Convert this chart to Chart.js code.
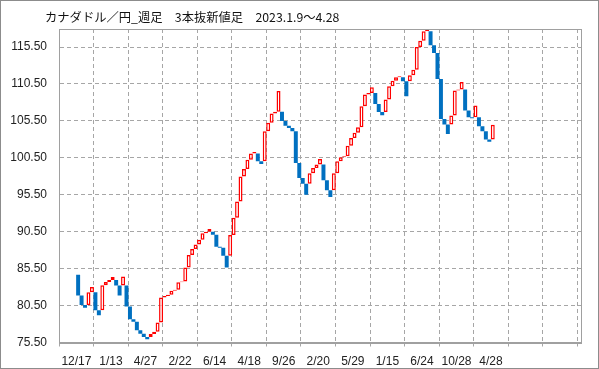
<!DOCTYPE html>
<html>
<head>
<meta charset="utf-8">
<script src="https://cdn.jsdelivr.net/npm/chart.js@4"></script>
<style>
html,body{margin:0;padding:0;background:#fff;}
#wrap{width:599px;height:369px;}
canvas{display:block;}
</style>
</head>
<body>
<div id="wrap"><canvas id="c" width="599" height="369"></canvas></div>
<script>
const chartTitle = 'カナダドル／円_週足　3本抜新値足　2023.1.9～4.28';
const xLabels = ['12/17','1/13','4/27','2/22','6/14','4/18','9/26','2/20','5/29','1/15','6/24','10/28','4/28'];
const yTicks = [75.5, 80.5, 85.5, 90.5, 95.5, 100.5, 105.5, 110.5, 115.5];
const barOpen = [
  84.68, 81.85, 80.57, 80.57, 82.30, 82.30, 79.88, 79.88, 83.25, 83.70,
  83.95, 83.95, 83.20, 83.20, 83.20, 80.37, 78.65, 78.32, 77.15, 76.70,
  76.25, 76.25, 76.65, 76.95, 78.20, 81.60, 81.80, 81.95, 82.50, 82.65,
  83.65, 83.75, 85.66, 87.33, 88.15, 88.78, 89.41, 90.30, 90.50, 90.50,
  90.10, 88.45, 88.32, 87.23, 87.23, 90.05, 92.40, 94.58, 97.98, 98.98,
  100.25, 101.07, 101.07, 100.02, 100.02, 104.10, 105.24, 106.50, 106.74, 106.74,
  105.47, 104.85, 104.55, 104.10, 99.80, 97.76, 96.99, 96.99, 98.42, 99.12,
  99.60, 99.60, 97.45, 96.10, 96.10, 98.42, 100.03, 100.57, 100.70, 102.15,
  103.19, 103.90, 104.64, 107.48, 109.06, 109.28, 109.28, 107.80, 106.72, 106.72,
  108.38, 110.18, 110.95, 111.40, 111.40, 110.86, 110.86, 111.67, 112.44, 115.50,
  116.36, 117.62, 117.62, 115.73, 114.69, 111.18, 105.77, 105.00, 105.00, 106.22,
  109.60, 109.75, 109.75, 106.90, 106.00, 106.00, 106.00, 104.78, 104.10, 102.98,
  102.98
];
const barClose = [
  81.85, 80.57, 80.20, 82.30, 83.00, 79.88, 79.20, 83.25, 83.70, 83.95,
  84.36, 83.20, 81.85, 84.45, 80.37, 78.65, 78.32, 77.15, 76.70, 76.25,
  75.95, 76.65, 76.95, 78.20, 81.60, 81.80, 81.95, 82.50, 82.65, 83.65,
  83.75, 85.66, 87.33, 88.15, 88.78, 89.41, 90.30, 90.50, 90.86, 90.10,
  88.45, 88.32, 87.23, 85.65, 90.05, 92.40, 94.58, 97.98, 98.98, 100.25,
  101.07, 101.30, 100.02, 99.66, 104.10, 105.24, 106.50, 106.74, 109.55, 105.47,
  104.85, 104.55, 104.10, 99.80, 97.76, 96.99, 95.50, 98.42, 99.12, 99.60,
  100.35, 97.45, 96.10, 95.20, 98.42, 100.03, 100.57, 100.70, 102.15, 103.19,
  103.90, 104.64, 107.48, 109.06, 109.28, 110.05, 107.80, 106.72, 106.27, 108.38,
  110.18, 110.95, 111.40, 111.54, 110.86, 108.83, 111.67, 112.44, 115.50, 116.36,
  117.62, 117.93, 115.73, 114.69, 111.18, 105.77, 105.00, 103.74, 106.22, 109.60,
  109.75, 110.77, 106.90, 106.00, 105.86, 107.57, 104.78, 104.10, 102.98, 102.66,
  104.98
];

const UP = '#ff0000';
const DOWN = '#0070c0';
const GRID = '#a6a6a6';

const points = barOpen.map((o, i) => ({ x: i + 0.5, y: [o, barClose[i]] }));

const framePlugin = {
  id: 'frame',
  beforeDraw(chart) {
    const ctx = chart.ctx;
    ctx.save();
    ctx.fillStyle = '#ffffff';
    ctx.fillRect(0, 0, chart.width, chart.height);
    ctx.restore();
  },
  afterDraw(chart) {
    const ctx = chart.ctx;
    const a = chart.chartArea;
    ctx.save();
    ctx.strokeStyle = '#a0a0a0';
    ctx.lineWidth = 1;
    ctx.strokeRect(Math.round(a.left) + 0.5, Math.round(a.top) + 0.5, Math.round(a.right - a.left), Math.round(a.bottom - a.top));
    ctx.strokeStyle = '#8c8c8c';
    ctx.strokeRect(0.5, 0.5, chart.width - 1, chart.height - 1);
    ctx.fillStyle = '#111111';
    ctx.font = '12.3px "Noto Sans CJK JP", sans-serif';
    ctx.textBaseline = 'middle';
    ctx.textAlign = 'left';
    ctx.fillText(chartTitle, 45, 17);
    ctx.restore();
  }
};

new Chart(document.getElementById('c'), {
  type: 'bar',
  data: {
    datasets: [{
      data: points,
      backgroundColor: (c) => {
        const r = c.raw; if (!r) return DOWN;
        return r.y[1] >= r.y[0] ? '#ffffff' : DOWN;
      },
      borderColor: (c) => {
        const r = c.raw; if (!r) return DOWN;
        return r.y[1] >= r.y[0] ? UP : DOWN;
      },
      borderWidth: (c) => {
        const r = c.raw; if (!r) return 0;
        return r.y[1] >= r.y[0] ? 1.5 : 0;
      },
      borderSkipped: false,
      barPercentage: 1.15,
      categoryPercentage: 1
    }]
  },
  options: {
    responsive: false,
    animation: false,
    devicePixelRatio: 1,
    layout: { padding: { left: 0, right: 18, top: 29, bottom: 0 } },
    plugins: {
      legend: { display: false },
      title: { display: false },
      tooltip: { enabled: false }
    },
    scales: {
      x: {
        type: 'linear',
        min: 0,
        max: 141,
        afterFit: (s) => { s.height = 26.5; },
        ticks: {
          stepSize: 10,
          includeBounds: false,
          autoSkip: false,
          maxRotation: 0,
          padding: 8,
          color: '#222',
          font: { family: '"Liberation Sans", Arial, sans-serif', size: 12 },
          callback: (v) => {
            const k = Math.round(v / 10);
            return (Math.abs(v - k * 10) < 1e-6 && k < xLabels.length) ? xLabels[k] : '';
          }
        },
        grid: {
          color: GRID,
          lineWidth: 1,
          drawTicks: true,
          tickLength: 4,
          tickColor: GRID,
          tickBorderDash: []
        },
        border: { display: true, color: '#a0a0a0', dash: [4, 3] }
      },
      y: {
        type: 'linear',
        min: 75.5,
        max: 117.94,
        afterFit: (s) => { s.width = 59; },
        afterBuildTicks: (s) => { s.ticks = yTicks.map(v => ({ value: v })); },
        ticks: {
          padding: 12,
          color: '#222',
          font: { family: '"Liberation Sans", Arial, sans-serif', size: 12 },
          callback: (v) => Number(v).toFixed(2)
        },
        grid: {
          color: GRID,
          lineWidth: 1,
          drawTicks: false
        },
        border: { display: true, color: '#a0a0a0', dash: [4, 3] }
      }
    }
  },
  plugins: [framePlugin]
});
</script>
</body>
</html>
